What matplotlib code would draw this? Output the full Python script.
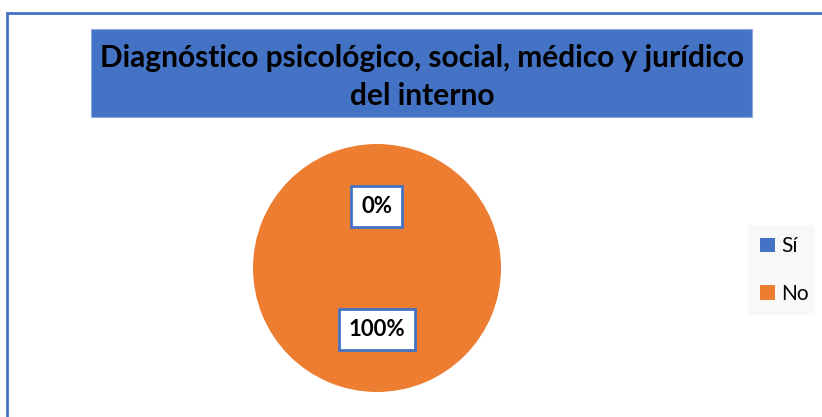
import matplotlib.pyplot as plt
from matplotlib.patches import Rectangle

labels = ['Sí', 'No']
values = [0, 100]
colors = ['#4472C4', '#ED7D31']
title = 'Diagnóstico psicológico, social, médico y jurídico\ndel interno'

W, H = 822, 417
fig = plt.figure(figsize=(W / 100, H / 100), dpi=100)
fig.patch.set_facecolor('white')

# outer chart border
fig.patches.append(Rectangle((7 / W, -0.1), 1.2, (H - 13) / H + 0.1, transform=fig.transFigure,
                             fill=False, edgecolor='#4472C4', lw=2))

# title box
fig.patches.append(Rectangle((91 / W, 1 - 117 / H), (752 - 91) / W, (117 - 29) / H,
                             transform=fig.transFigure, facecolor='#4472C4',
                             edgecolor='#8faadc', lw=0.8))
fig.text(422 / W, 1 - 77 / H, title, ha='center', va='center', fontsize=21.5,
         fontweight='bold', family=['Lato', 'DejaVu Sans'], linespacing=1.4)

# pie
r = 124
ax = fig.add_axes([(377 - r) / W, 1 - (268 + r) / H, 2 * r / W, 2 * r / H])
wedges, texts, autotexts = ax.pie(values, colors=colors, startangle=90, counterclock=False,
                                  autopct='%1.0f%%', pctdistance=0.5, radius=1.0)
for t in autotexts:
    t.set_fontsize(16)
    t.set_fontweight('bold')
    t.set_family(['Lato', 'DejaVu Sans'])
    t.set_bbox(dict(facecolor='white', edgecolor='#4472C4', lw=2, boxstyle='square,pad=0.45'))
ax.set_xlim(-1, 1)
ax.set_ylim(-1, 1)
ax.set_aspect('equal')

# legend
fig.patches.append(Rectangle((748 / W, 1 - 315 / H), 67 / W, 90 / H, transform=fig.transFigure,
                             facecolor='#f8f8f8', edgecolor='none'))
leg = fig.legend(wedges, labels, loc='center left', bbox_to_anchor=(760 / W, 1 - 270 / H),
                 frameon=False, handlelength=0.7, handleheight=0.7, borderpad=0, borderaxespad=0,
                 handletextpad=0.3, labelspacing=1.3, prop={'family': ['Lato', 'DejaVu Sans'], 'size': 15})

fig.savefig('out.png', dpi=100)
